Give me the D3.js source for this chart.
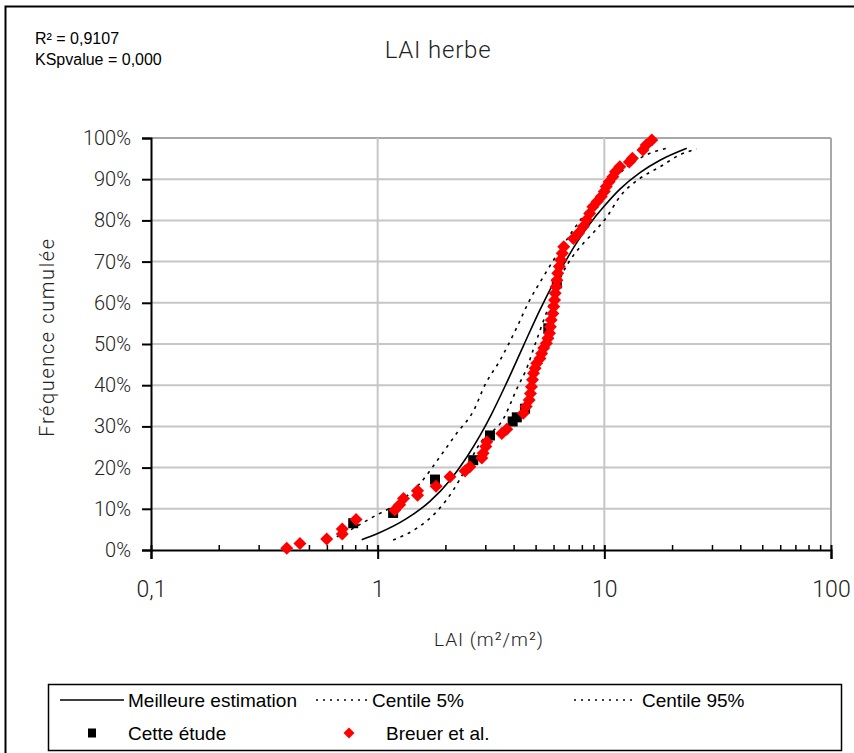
<!DOCTYPE html>
<html>
<head>
<meta charset="utf-8">
<script src="https://cdn.jsdelivr.net/npm/d3@7"></script>
<style>
  html, body { margin: 0; padding: 0; background: #fff; }
  svg { display: block; }
  .light { font-family: Roboto, "Open Sans", sans-serif; font-weight: 300; fill: #222; }
  .arial { font-family: "Liberation Sans", Arial, sans-serif; fill: #000; }
</style>
</head>
<body>
<svg id="chart" width="854" height="753"></svg>
<script>
// ---------------- DATA ----------------
const chartTitle = "LAI herbe";
const statsLines = ["R\u00B2 = 0,9107", "KSpvalue = 0,000"];
const xAxisTitle = "LAI (m\u00B2/m\u00B2)";
const yAxisTitle = "Fr\u00E9quence cumul\u00E9e";

const xTickValues = [0.1, 1, 10, 100];
const xTickLabels = ["0,1", "1", "10", "100"];
const yTickValues = [0, 0.1, 0.2, 0.3, 0.4, 0.5, 0.6, 0.7, 0.8, 0.9, 1.0];
const yTickLabels = ["0%", "10%", "20%", "30%", "40%", "50%", "60%", "70%", "80%", "90%", "100%"];

// Meilleure estimation (solid)
const bestX = [0.85, 1.0, 1.34, 1.70, 2.09, 2.47, 2.83, 3.18, 3.65, 4.39, 5.20, 6.17, 7.68, 9.10, 10.0, 11.72, 14.36, 17.6, 23.1];
const bestY = [2.5, 4.0, 7.6, 11.8, 17.0, 22.5, 27.8, 33.0, 39.8, 49.5, 58.3, 66.3, 75.2, 80.8, 83.5, 87.6, 91.6, 94.6, 97.5];

// Centile 95% (upper / left dotted)
const c95X = [0.66, 0.73, 0.96, 1.19, 1.54, 1.88, 2.23, 2.66, 2.97, 3.47, 4.11, 4.62, 5.38, 6.37, 7.3, 8.34, 9.73, 12.1, 15.9, 18.8];
const c95Y = [3.2, 4.4, 8.1, 10.9, 16.2, 22.6, 28.3, 34.0, 40.0, 46.1, 54.0, 60.0, 66.3, 72.8, 77.7, 82.1, 86.6, 92.2, 96.3, 97.5];

// Centile 5% (lower / right dotted)
const c5X = [1.17, 1.49, 1.82, 2.16, 2.43, 2.83, 3.6, 4.15, 4.5, 4.94, 5.76, 6.59, 7.3, 8.1, 8.94, 10.24, 11.72, 14.36, 17.6, 21.5, 25.5];
const c5Y = [2.4, 5.3, 9.3, 14.6, 19.4, 25.9, 32.0, 39.6, 43.5, 49.8, 59.9, 67.5, 71.5, 74.5, 77.0, 80.8, 85.8, 90.2, 93.0, 95.9, 97.3];

// Cette étude (black squares)
const studyX = [0.78, 1.17, 1.79, 2.64, 3.13, 3.94, 4.11, 4.47, 5.66, 6.17];
const studyY = [6.5, 9.0, 17.1, 21.8, 27.8, 31.2, 32.2, 34.3, 53.8, 64.7];

// Breuer et al. (red diamonds)
const breuerX = [0.397, 0.454, 0.596, 0.698, 0.698, 0.803, 1.19, 1.25, 1.30, 1.50, 1.50, 1.81, 2.085, 2.43, 2.55, 2.88, 2.92, 3.0, 3.03, 3.53, 3.71, 4.39, 4.52, 4.66, 4.72, 4.77, 4.82, 4.87, 4.95, 5.03, 5.2, 5.29, 5.4, 5.55, 5.64, 5.73, 5.78, 5.83, 5.93, 5.98, 6.03, 6.07, 6.13, 6.18, 6.23, 6.33, 6.42, 6.52, 6.62, 7.3, 7.68, 8.07, 8.34, 8.62, 8.9, 9.3, 9.7, 10.0, 10.2, 10.5, 10.9, 11.2, 11.7, 12.9, 13.3, 14.8, 15.3, 16.2];
const breuerY = [0.4, 1.6, 2.7, 3.9, 5.1, 7.4, 9.7, 11.0, 12.5, 13.3, 14.4, 15.5, 17.8, 19.2, 20.2, 22.3, 23.5, 25.1, 26.3, 28.3, 29.3, 33.2, 34.8, 36.4, 38.0, 39.6, 41.3, 42.9, 44.1, 45.3, 46.5, 47.7, 49.0, 50.2, 51.4, 52.6, 54.2, 55.8, 57.4, 59.1, 60.7, 62.3, 63.9, 65.5, 67.2, 68.8, 70.4, 72.0, 73.6, 75.6, 76.9, 78.5, 80.1, 81.7, 83.3, 84.6, 85.8, 87.0, 88.2, 89.4, 90.6, 91.8, 93.0, 94.2, 95.1, 97.1, 98.3, 99.5];

const legendItems = ["Meilleure estimation", "Centile 5%", "Centile 95%", "Cette \u00E9tude", "Breuer et al."];

// ---------------- DRAW ----------------
const svg = d3.select("#chart");
const W = 854, H = 753;
const plot = { left: 151, right: 831, top: 138, bottom: 550 };

const x = d3.scaleLog().domain([0.1, 100]).range([plot.left, plot.right]);
const y = d3.scaleLinear().domain([0, 1]).range([plot.bottom, plot.top]);

// outer frame
svg.append("rect").attr("x", 5.5).attr("y", 6.5).attr("width", W + 10).attr("height", H + 10)
  .attr("fill", "none").attr("stroke", "#000").attr("stroke-width", 2);

// gridlines
const grid = svg.append("g");
grid.selectAll("line.h").data(yTickValues.filter(v => v > 0)).join("line")
  .attr("x1", plot.left).attr("x2", plot.right)
  .attr("y1", d => y(d)).attr("y2", d => y(d))
  .attr("stroke", d => d === 1 ? "#a8a8a8" : "#c6c6c6").attr("stroke-width", 2);
grid.selectAll("line.v").data(xTickValues.filter(v => v > 0.1)).join("line")
  .attr("y1", plot.top).attr("y2", plot.bottom)
  .attr("x1", d => x(d)).attr("x2", d => x(d))
  .attr("stroke", d => d === 100 ? "#a8a8a8" : "#c6c6c6").attr("stroke-width", 2);

// y axis
const yAxis = d3.axisLeft(y).tickValues(yTickValues)
  .tickFormat((d, i) => yTickLabels[i]).tickSize(9).tickPadding(11);
const gy = svg.append("g").attr("transform", `translate(${plot.left},0)`).call(yAxis);
gy.select(".domain").attr("stroke", "#000").attr("stroke-width", 2);
gy.selectAll(".tick line").attr("stroke", "#000").attr("stroke-width", 2);
gy.selectAll(".tick text").attr("class", "light").style("font-size", "20px").attr("fill", "#222");

// x axis
const xAxis = d3.axisBottom(x).tickValues(xTickValues)
  .tickFormat((d, i) => xTickLabels[i]).tickSize(9).tickPadding(22);
const gx = svg.append("g").attr("transform", `translate(0,${plot.bottom})`).call(xAxis);
gx.select(".domain").attr("stroke", "#000").attr("stroke-width", 2);
gx.selectAll(".tick line").attr("stroke", "#000").attr("stroke-width", 2).attr("y1", -5);
gx.selectAll(".tick text").attr("class", "light").style("font-size", "23px").attr("fill", "#222");

// minor x ticks
const minor = x.ticks().filter(v => !xTickValues.some(t => Math.abs(t - v) < 1e-9));
svg.append("g").selectAll("line").data(minor).join("line")
  .attr("x1", d => x(d)).attr("x2", d => x(d))
  .attr("y1", plot.bottom - 5).attr("y2", plot.bottom)
  .attr("stroke", "#000").attr("stroke-width", 1.5);

// lines
const line = (xs, ys) => d3.line().curve(d3.curveMonotoneX)
  .x((d, i) => x(xs[i])).y((d, i) => y(ys[i] / 100))(xs);

svg.append("path").attr("d", line(c95X, c95Y)).attr("fill", "none")
  .attr("stroke", "#000").attr("stroke-width", 1.6).attr("stroke-dasharray", "3,5");
svg.append("path").attr("d", line(c5X, c5Y)).attr("fill", "none")
  .attr("stroke", "#000").attr("stroke-width", 1.6).attr("stroke-dasharray", "3,5");
svg.append("path").attr("d", line(bestX, bestY)).attr("fill", "none")
  .attr("stroke", "#000").attr("stroke-width", 1.6);

// squares
const sq = 10;
svg.append("g").selectAll("rect").data(studyX).join("rect")
  .attr("x", (d, i) => x(d) - sq / 2).attr("y", (d, i) => y(studyY[i] / 100) - sq / 2)
  .attr("width", sq).attr("height", sq).attr("fill", "#000");

// diamonds
const dm = 6.5;
const diamond = (cx, cy, r) => `M${cx},${cy - r}L${cx + r},${cy}L${cx},${cy + r}L${cx - r},${cy}Z`;
svg.append("g").selectAll("path").data(breuerX).join("path")
  .attr("d", (d, i) => diamond(x(d), y(breuerY[i] / 100), dm))
  .attr("fill", "#ff0000");

// title & texts
svg.append("text").attr("class", "light").attr("x", 438).attr("y", 58)
  .attr("text-anchor", "middle").style("font-size", "24px").style("letter-spacing", "0.8px").text(chartTitle);
statsLines.forEach((t, i) => {
  svg.append("text").attr("class", "arial").attr("x", 35).attr("y", 44 + i * 21)
    .style("font-size", "16px").text(t);
});
svg.append("text").attr("class", "light").attr("x", 489).attr("y", 646)
  .attr("text-anchor", "middle").style("font-size", "19px").style("letter-spacing", "1px").text(xAxisTitle);
svg.append("text").attr("class", "light")
  .attr("transform", "translate(54,337) rotate(-90)")
  .attr("text-anchor", "middle").style("font-size", "20px").style("letter-spacing", "1.6px")
  .attr("fill", "#444").text(yAxisTitle);

// legend
const lg = svg.append("g");
lg.append("rect").attr("x", 48.5).attr("y", 684.5).attr("width", 793).attr("height", 66)
  .attr("fill", "#fff").attr("stroke", "#000").attr("stroke-width", 1.5);
const r1 = 700, r2 = 733;
lg.append("line").attr("x1", 60).attr("x2", 124).attr("y1", r1).attr("y2", r1)
  .attr("stroke", "#000").attr("stroke-width", 1.5);
lg.append("line").attr("x1", 316).attr("x2", 368).attr("y1", r1).attr("y2", r1)
  .attr("stroke", "#000").attr("stroke-width", 1.5).attr("stroke-dasharray", "2,5");
lg.append("line").attr("x1", 574).attr("x2", 637).attr("y1", r1).attr("y2", r1)
  .attr("stroke", "#000").attr("stroke-width", 1.5).attr("stroke-dasharray", "2,5");
lg.append("rect").attr("x", 88).attr("y", r2 - 4.5).attr("width", 8).attr("height", 9).attr("fill", "#000");
lg.append("path").attr("d", diamond(349, r2, 5.5)).attr("fill", "#ff0000");
const legPos = [[128, r1], [372, r1], [642, r1], [128, r2], [386, r2]];
legendItems.forEach((t, i) => {
  lg.append("text").attr("class", "arial").attr("x", legPos[i][0]).attr("y", legPos[i][1] + 7)
    .style("font-size", "19px").text(t);
});
</script>
</body>
</html>
